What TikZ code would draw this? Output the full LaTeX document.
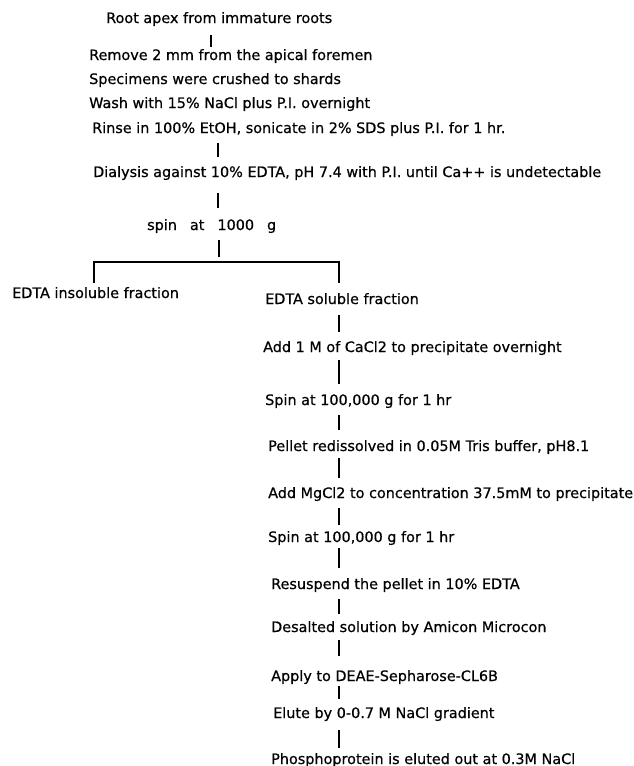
\documentclass[tikz,border=0pt]{standalone}
\usepackage{fontspec}
\setmainfont{DejaVu Sans}[FakeBold=0.6]
\usetikzlibrary{calc}

\begin{document}
\begin{tikzpicture}[x=1pt, y=-1pt,
  stage/.style={anchor=base west, inner sep=0pt, text height=11pt, text depth=3.5pt, font=\fontsize{14.4}{17}\selectfont},
  stem/.style={line width=1.6pt},
  branch/.style={line width=1.3pt}]
\useasboundingbox (0,0) rectangle (633,766);

% Spine positions
\pgfmathsetmacro{\xTop}{211}
\pgfmathsetmacro{\xMid}{218}
\pgfmathsetmacro{\xLeft}{94}
\pgfmathsetmacro{\xRight}{339}
\pgfmathsetmacro{\yBranch}{262}
\coordinate (topspine) at (\xTop,0);
\coordinate (midspine) at (\xMid,0);
\coordinate (split) at (\xMid+1,\yBranch);
\coordinate (brL) at (\xLeft,\yBranch);
\coordinate (brR) at (\xRight,\yBranch);

% Preparation
\node[stage] (root) at (106,23) {Root apex from immature roots};
\node[stage] (remove) at (89,60) {Remove 2 mm from the apical foremen};
\node[stage] (crush) at (89,84) {Specimens were crushed to shards};
\node[stage] (wash) at (89,108) {Wash with 15\% NaCl plus P.I. overnight};
\node[stage] (rinse) at (92,133) {Rinse in 100\% EtOH, sonicate in 2\% SDS plus P.I. for 1 hr.};
\node[stage] (dialysis) at (93,177) {Dialysis against 10\% EDTA, pH 7.4 with P.I. until Ca++ is undetectable};
\node[stage] (spin) at (147,230) {spin\hspace{13pt}at\hspace{13pt}1000\hspace{13pt}g};

% Fractions
\node[stage] (insol) at (12,298) {EDTA insoluble fraction};
\node[stage] (sol) at (265,304) {EDTA soluble fraction};

% Soluble fraction steps
\node[stage] (cacl) at (263,352) {Add 1 M of CaCl2 to precipitate overnight};
\node[stage] (spina) at (265,405) {Spin at 100,000 g for 1 hr};
\node[stage] (pellet) at (268,451) {Pellet redissolved in 0.05M Tris buffer, pH8.1};
\node[stage] (mgcl) at (268,498) {Add MgCl2 to concentration 37.5mM to precipitate};
\node[stage] (spinb) at (268,542) {Spin at 100,000 g for 1 hr};
\node[stage] (resusp) at (271,589) {Resuspend the pellet in 10\% EDTA};
\node[stage] (desalt) at (271,632) {Desalted solution by Amicon Microcon};
\node[stage] (apply) at (271,681) {Apply to DEAE-Sepharose-CL6B};
\node[stage] (elute) at (273,718) {Elute by 0-0.7 M NaCl gradient};
\node[stage] (phospho) at (271,764) {Phosphoprotein is eluted out at 0.3M NaCl};

% Draw stems of the main line
\draw[stem, shorten <=8.5pt, shorten >=2pt] (root.south -| topspine) -- (remove.north -| topspine);
\draw[stem, shorten <=6.5pt, shorten >=9pt] (rinse.south -| midspine) -- (dialysis.north -| midspine);
\draw[stem, shorten <=12.5pt, shorten >=11pt] (dialysis.south -| midspine) -- (spin.north -| midspine);
\draw[stem, shorten <=6.5pt, shorten >=5pt] (spin.south -| split) -- (split);

% Draw branch
\draw[branch, shorten <=4pt, shorten >=10pt] (insol.north -| brL) -- (brL) -- (brR) -- (sol.north -| brR);

% Draw stems of the soluble fraction
\draw[stem, shorten <=7.5pt, shorten >=9pt] (sol.south -| brR) -- (cacl.north -| brR);
\draw[stem, shorten <=4.5pt, shorten >=10pt] (cacl.south -| brR) -- (spina.north -| brR);
\draw[stem, shorten <=6.5pt, shorten >=10pt] (spina.south -| brR) -- (pellet.north -| brR);
\draw[stem, shorten <=3.5pt, shorten >=9pt] (pellet.south -| brR) -- (mgcl.north -| brR);
\draw[stem, shorten <=6.5pt, shorten >=6pt] (mgcl.south -| brR) -- (spinb.north -| brR);
\draw[stem, shorten <=2.5pt, shorten >=10pt] (spinb.south -| brR) -- (resusp.north -| brR);
\draw[stem, shorten <=6.5pt, shorten >=7pt] (resusp.south -| brR) -- (desalt.north -| brR);
\draw[stem, shorten <=4.5pt, shorten >=14pt] (desalt.south -| brR) -- (apply.north -| brR);
\draw[stem, shorten <=1.5pt, shorten >=8pt] (apply.south -| brR) -- (elute.north -| brR);
\draw[stem, shorten <=8.5pt, shorten >=5pt] (elute.south -| brR) -- (phospho.north -| brR);

\end{tikzpicture}
\end{document}
